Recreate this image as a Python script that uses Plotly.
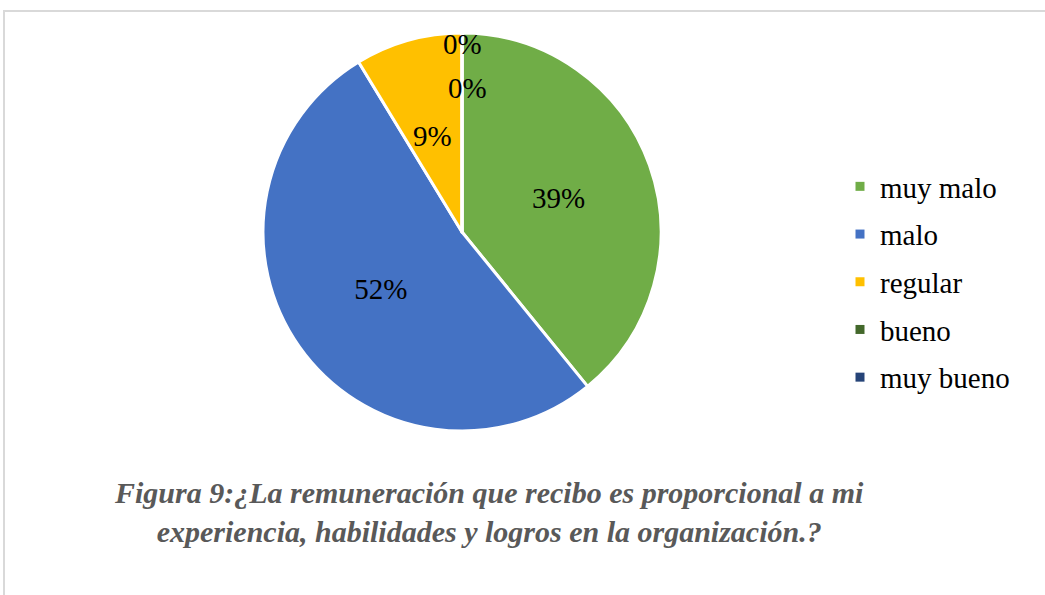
import plotly.graph_objects as go

categories = ["muy malo", "malo", "regular", "bueno", "muy bueno"]
counts = [9, 12, 2, 0, 0]
colors = ["#70AD47", "#4472C4", "#FFC000", "#43682B", "#264478"]
caption = ("<b><i>Figura 9:¿La remuneración que recibo es proporcional a mi<br>"
           "experiencia, habilidades y logros en la organización.?</i></b>")

total = sum(counts)
pct_text = [f"{round(100 * c / total)}%" for c in counts]

SERIF = "Liberation Serif, Times New Roman, serif"
W, H = 1045, 595

# big slices get their label from the pie itself; thin/zero slices are
# labelled the way Excel stacks them near 12 o'clock
big = [c / total >= 0.2 for c in counts]
fig = go.Figure()
fig.add_trace(go.Pie(
    labels=categories, values=counts, sort=False, direction="clockwise",
    rotation=0, marker=dict(colors=colors, line=dict(color="white", width=3)),
    text=[t if b else "" for t, b in zip(pct_text, big)],
    textinfo="text", textposition="inside",
    insidetextorientation="horizontal",
    textfont=dict(family=SERIF, size=29, color="black"),
    insidetextfont=dict(family=SERIF, size=29, color="black"),
    showlegend=False, hoverinfo="label+percent",
    domain=dict(x=[263 / W, 661 / W], y=[1 - 431 / H, 1 - 33 / H]),
))

# legend entries
for i, (name, col) in enumerate(zip(categories, colors)):
    fig.add_trace(go.Scatter(
        x=[None], y=[None], mode="markers", name=name,
        marker=dict(symbol="square", size=9, color=col),
        legendgroup=f"g{i}", showlegend=True,
    ))

small_pos = {2: (432, 136), 3: (462, 44), 4: (467, 88)}
for i, (c, t, b) in enumerate(zip(counts, pct_text, big)):
    if not b and i in small_pos:
        px, py = small_pos[i]
        fig.add_annotation(x=px / W, y=1 - py / H, xref="paper", yref="paper",
                           xanchor="center", yanchor="middle",
                           text=t, showarrow=False,
                           font=dict(family=SERIF, size=29, color="black"))

fig.add_annotation(x=489 / W, y=1 - 512 / H, xref="paper", yref="paper",
                   xanchor="center", yanchor="middle",
                   text=caption, showarrow=False, align="center",
                   font=dict(family=SERIF, size=30, color="#595959"))

fig.add_shape(type="rect", xref="paper", yref="paper",
              x0=4 / W, x1=1.02, y0=-0.05, y1=1 - 11 / H,
              line=dict(color="#D9D9D9", width=2), fillcolor="rgba(0,0,0,0)")

fig.update_layout(
    width=W, height=H, margin=dict(l=0, r=0, t=0, b=0),
    paper_bgcolor="white", plot_bgcolor="white",
    xaxis=dict(visible=False), yaxis=dict(visible=False),
    legend=dict(x=840 / W, y=1 - 161 / H, xanchor="left", yanchor="top",
                tracegroupgap=7, itemwidth=30,
                font=dict(family=SERIF, size=29, color="black"),
                bgcolor="rgba(0,0,0,0)"),
)

fig.write_html("out.html", config={"displayModeBar": False},
               post_script="document.body.style.margin='0';"
                           "document.body.style.overflow='hidden';")
